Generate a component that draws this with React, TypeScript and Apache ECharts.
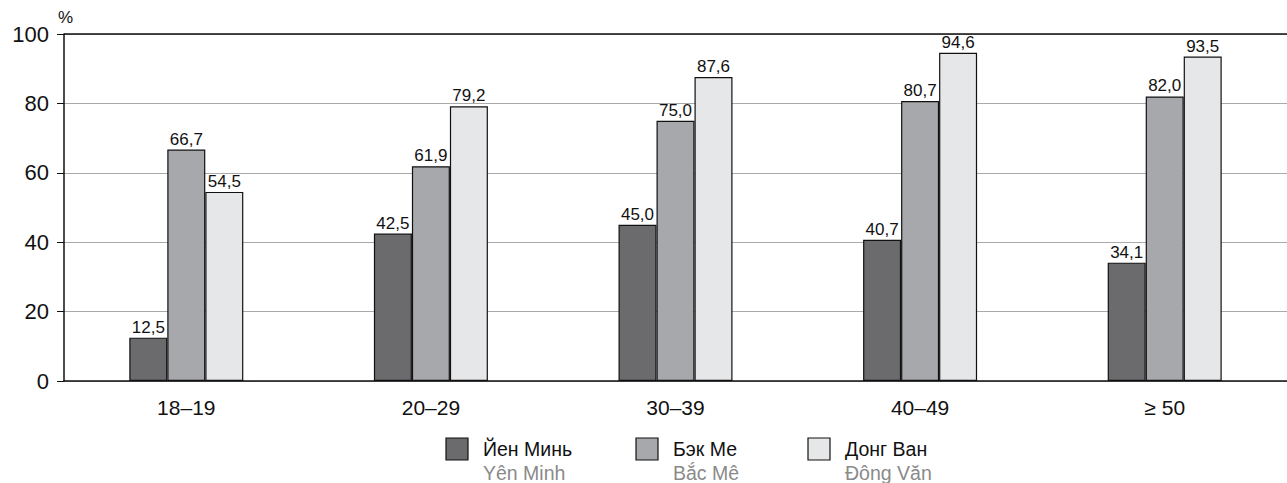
import React, { useEffect, useRef } from "react";
import * as echarts from "echarts";

const categories = ["18–19", "20–29", "30–39", "40–49", "≥ 50"];
const seriesNames = ["Йен Минь", "Бэк Ме", "Донг Ван"];
const seriesSubNames = ["Yên Minh", "Bắc Mê", "Đông Văn"];
const yenMinh = [12.5, 42.5, 45.0, 40.7, 34.1];
const bacMe = [66.7, 61.9, 75.0, 80.7, 82.0];
const dongVan = [54.5, 79.2, 87.6, 94.6, 93.5];
const yTicks = [0, 20, 40, 60, 80, 100];
const colors = ["#6b6b6e", "#a7a8ab", "#e6e7e8"];

const FONT = "Liberation Sans, Arial, sans-serif";

export default function App() {
  const ref = useRef<HTMLDivElement>(null);
  useEffect(() => {
    if (!ref.current) return;
    const chart = echarts.init(ref.current, null, { renderer: "svg" });
    const values = [yenMinh, bacMe, dongVan];
    const legendX = [446, 636, 808];
    const graphic: any[] = [];
    seriesNames.forEach((n, i) => {
      graphic.push({
        type: "rect",
        shape: { x: legendX[i], y: 438, width: 22, height: 22 },
        style: { fill: colors[i], stroke: "#111", lineWidth: 1.2 },
      });
      graphic.push({
        type: "text",
        x: legendX[i] + 37,
        y: 449,
        style: { text: n, fill: "#111", font: `19.5px ${FONT}`, verticalAlign: "middle" },
      });
      graphic.push({
        type: "text",
        x: legendX[i] + 37,
        y: 473,
        style: { text: seriesSubNames[i], fill: "#8a8a8a", font: `19.5px ${FONT}`, verticalAlign: "middle" },
      });
    });
    chart.setOption({
      animation: false,
      textStyle: { fontFamily: FONT },
      grid: { left: 64, top: 34, right: 0, bottom: 102 },
      xAxis: {
        type: "category",
        data: categories,
        axisLine: { lineStyle: { color: "#111", width: 1.5 } },
        axisTick: { show: false },
        axisLabel: { color: "#111", fontSize: 21, margin: 16, fontFamily: FONT },
      },
      yAxis: {
        type: "value",
        min: 0,
        max: 100,
        interval: 20,
        name: "%",
        nameLocation: "end",
        nameGap: 8,
        nameTextStyle: { color: "#111", fontSize: 17, align: "left", padding: [0, 0, 0, -6], fontFamily: FONT },
        axisLine: { show: true, lineStyle: { color: "#111", width: 1.5 } },
        axisTick: { show: true, length: 7, lineStyle: { color: "#111" } },
        axisLabel: {
          color: "#111",
          fontSize: 22,
          margin: 15,
          fontFamily: FONT,
          formatter: (v: number) => (yTicks.includes(v) ? String(v) : ""),
        },
        splitLine: { show: true, lineStyle: { color: "#aaa", width: 1 } },
      },
      series: seriesNames.map((n, i) => ({
        name: n,
        type: "bar",
        data: values[i],
        barWidth: 38,
        barGap: "0%",
        itemStyle: { color: colors[i], borderColor: "#111", borderWidth: 1.2 },
        label: {
          show: true,
          position: "top",
          distance: 2,
          color: "#111",
          fontSize: 17,
          fontFamily: FONT,
          formatter: (p: any) => p.value.toFixed(1).replace(".", ","),
        },
        markLine:
          i === 0
            ? {
                silent: true,
                symbol: "none",
                label: { show: false },
                lineStyle: { color: "#111", width: 1.5, type: "solid" },
                data: [{ yAxis: 100 }],
              }
            : undefined,
      })),
      graphic,
    });
    return () => chart.dispose();
  }, []);
  return (
    <div
      ref={ref}
      style={{ position: "fixed", left: 0, top: 0, width: 1287, height: 483, background: "#fff" }}
    />
  );
}
